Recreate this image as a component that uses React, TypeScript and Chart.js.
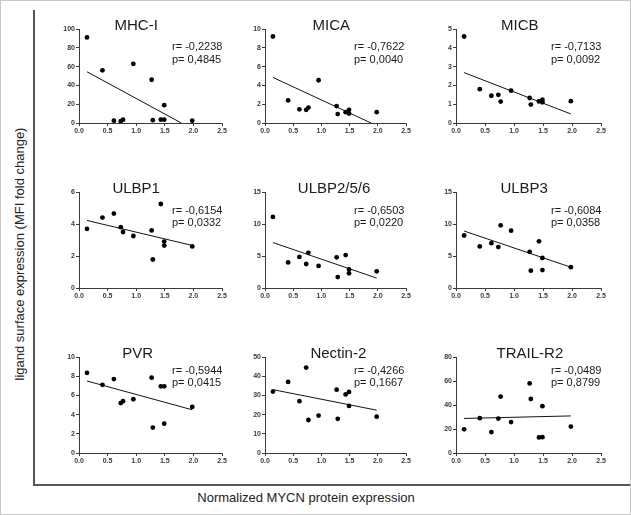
import React, { useEffect, useRef } from "react";
import { Chart, registerables } from "chart.js";

Chart.register(...registerables);

// ---- data ----
const mycnX = [0.14, 0.41, 0.61, 0.73, 0.77, 0.95, 1.27, 1.29, 1.43, 1.49, 1.49, 1.98];

const panelNames = ["MHC-I", "MICA", "MICB", "ULBP1", "ULBP2/5/6", "ULBP3", "PVR", "Nectin-2", "TRAIL-R2"];

const mhc1 = [91, 56, 2.5, 2, 3.5, 63, 46, 3, 3.5, 19, 3.5, 2.5];
const mica = [9.2, 2.4, 1.46, 1.4, 1.64, 4.55, 1.8, 0.95, 1.15, 1.4, 1.0, 1.15];
const micb = [4.6, 1.8, 1.45, 1.5, 1.14, 1.72, 1.33, 0.98, 1.15, 1.24, 1.1, 1.16];
const ulbp1 = [3.7, 4.4, 4.65, 3.8, 3.5, 3.25, 3.6, 1.78, 5.25, 2.9, 2.65, 2.6];
const ulbp256 = [11.1, 4.0, 4.85, 3.75, 5.5, 3.45, 4.8, 1.7, 5.15, 2.9, 2.3, 2.6];
const ulbp3 = [8.2, 6.5, 7.0, 6.4, 9.8, 8.95, 5.65, 2.7, 7.3, 4.7, 2.8, 3.25];
const pvr = [8.35, 7.1, 7.7, 5.2, 5.4, 5.6, 7.85, 2.65, 6.95, 6.95, 3.05, 4.8];
const nectin2 = [32, 37, 27, 44.5, 17.2, 19.5, 33, 17.8, 30.5, 31.8, 24.5, 18.9];
const trailR2 = [19.7, 29, 17.4, 28.7, 47, 25.8, 58, 45, 13, 39, 13.2, 22];
const panelValues = [mhc1, mica, micb, ulbp1, ulbp256, ulbp3, pvr, nectin2, trailR2];

// regression line end points [x0, y0, x1, y1]
const fitLines = [
  [0.14, 54.5, 1.79, 0],
  [0.14, 4.85, 1.88, 0],
  [0.14, 2.68, 1.98, 0.48],
  [0.14, 4.22, 1.98, 2.66],
  [0.14, 7.1, 1.98, 1.55],
  [0.14, 8.9, 1.98, 3.25],
  [0.14, 7.5, 1.98, 4.5],
  [0.14, 33, 1.98, 22.3],
  [0.14, 28.8, 1.98, 30.9],
];

const rValues = ["-0,2238", "-0,7622", "-0,7133", "-0,6154", "-0,6503", "-0,6084", "-0,5944", "-0,4266", "-0,0489"];
const pValues = ["0,4845", "0,0040", "0,0092", "0,0332", "0,0220", "0,0358", "0,0415", "0,1667", "0,8799"];

const yMax = [100, 10, 5, 6, 15, 15, 10, 50, 80];
const yStep = [20, 2, 1, 2, 5, 5, 2, 10, 20];
const xTickStep = 0.5;
const xMax = 2.5;

const yAxisTitle = "ligand surface expression (MFI fold change)";
const xAxisTitle = "Normalized MYCN protein expression";

// ---- layout ----
const colLeft = [78, 264, 455];
const colWidth = [143, 141, 145];
const rowTop = [28, 191, 356];
const rowHeight = [94, 96, 96];
const titleFrac = [0.40, 0.47, 0.44, 0.40, 0.49, 0.47, 0.41, 0.52, 0.51];
const statsDx = [93, 89, 95];
const statsDy = [[21, 34], [22, 34], [17, 29]];

const FONT = "'Liberation Sans', Arial, Helvetica, sans-serif";
const AX = "#3a3a3a";
const PAD_L = 30;
const PAD_T = 28;
const PAD_R = 12;
const PAD_B = 16;

function Panel({ idx }: { idx: number }) {
  const ref = useRef<HTMLCanvasElement | null>(null);
  const col = idx % 3;
  const row = Math.floor(idx / 3);
  const w = colWidth[col] + PAD_L + PAD_R;
  const h = rowHeight[row] + PAD_T + PAD_B;

  useEffect(() => {
    if (!ref.current) return;
    const vals = panelValues[idx];
    const pts = mycnX.map((x, i) => ({ x, y: vals[i] }));
    const fl = fitLines[idx];
    const textPlugin = {
      id: "panelText",
      afterDraw(chart: any) {
        const { ctx, chartArea } = chart;
        ctx.save();
        ctx.fillStyle = "#1a1a1a";
        ctx.font = `15px ${FONT}`;
        ctx.textAlign = "center";
        ctx.textBaseline = "alphabetic";
        ctx.fillText(panelNames[idx], chartArea.left + titleFrac[idx] * (chartArea.right - chartArea.left), chartArea.top + 1);
        ctx.font = `11px ${FONT}`;
        ctx.textAlign = "left";
        ctx.fillText(`r= ${rValues[idx]}`, chartArea.left + statsDx[col], chartArea.top + statsDy[row][0]);
        ctx.fillText(`p= ${pValues[idx]}`, chartArea.left + statsDx[col], chartArea.top + statsDy[row][1]);
        ctx.restore();
      },
    };
    const tickFont = { size: 7, weight: "bold" as const, family: FONT };
    const chart = new Chart(ref.current, {
      type: "scatter",
      data: {
        datasets: [
          {
            data: pts,
            pointRadius: 2.4,
            pointBackgroundColor: "#000",
            pointBorderWidth: 0,
            showLine: false,
          },
          {
            data: [{ x: fl[0], y: fl[1] }, { x: fl[2], y: fl[3] }],
            showLine: true,
            borderColor: "#111",
            borderWidth: 1,
            pointRadius: 0,
          },
        ],
      },
      options: {
        animation: false,
        responsive: false,
        devicePixelRatio: 1,
        layout: { padding: { top: PAD_T, right: PAD_R, bottom: 0, left: 0 } },
        plugins: { legend: { display: false }, tooltip: { enabled: false } },
        scales: {
          x: {
            type: "linear",
            min: 0,
            max: xMax,
            afterFit: (s: any) => { s.height = PAD_B; },
            ticks: {
              stepSize: xTickStep,
              callback: (v: any) => Number(v).toFixed(1),
              font: tickFont,
              color: AX,
              padding: 1,
              maxRotation: 0,
              autoSkip: false,
            },
            grid: { drawOnChartArea: false, drawTicks: true, tickLength: 3, color: AX },
            border: { color: AX, width: 1 },
          },
          y: {
            type: "linear",
            min: 0,
            max: yMax[idx],
            afterFit: (s: any) => { s.width = PAD_L; },
            ticks: {
              stepSize: yStep[idx],
              font: tickFont,
              color: AX,
              padding: 1,
              autoSkip: false,
            },
            grid: { drawOnChartArea: false, drawTicks: true, tickLength: 3, color: AX },
            border: { color: AX, width: 1 },
          },
        },
      },
      plugins: [textPlugin],
    });
    return () => chart.destroy();
  }, [idx]);

  return (
    <canvas
      ref={ref}
      width={w}
      height={h}
      style={{
        position: "absolute",
        left: colLeft[col] - PAD_L,
        top: rowTop[row] - PAD_T,
        width: w,
        height: h,
      }}
    />
  );
}

export default function App() {
  return (
    <div
      style={{
        position: "absolute",
        left: 0,
        top: 0,
        width: 631,
        height: 515,
        background: "#fff",
        boxSizing: "border-box",
        border: "1px solid #c8c8c8",
        fontFamily: FONT,
        overflow: "hidden",
      }}
    >
      {/* L frame */}
      <div style={{ position: "absolute", left: 32, top: 9, width: 1.5, height: 475, background: "#555" }} />
      <div style={{ position: "absolute", left: 32, top: 483, width: 600, height: 1.5, background: "#555" }} />
      {/* axis titles */}
      <div
        style={{
          position: "absolute",
          left: 18,
          top: 253,
          transform: "translate(-50%, -50%) rotate(-90deg)",
          whiteSpace: "nowrap",
          fontSize: 13,
          color: "#222",
        }}
      >
        {yAxisTitle}
      </div>
      <div
        style={{
          position: "absolute",
          left: 305,
          top: 496,
          transform: "translate(-50%, -50%)",
          whiteSpace: "nowrap",
          fontSize: 13,
          color: "#222",
        }}
      >
        {xAxisTitle}
      </div>
      {panelNames.map((_, i) => (
        <Panel key={i} idx={i} />
      ))}
    </div>
  );
}
